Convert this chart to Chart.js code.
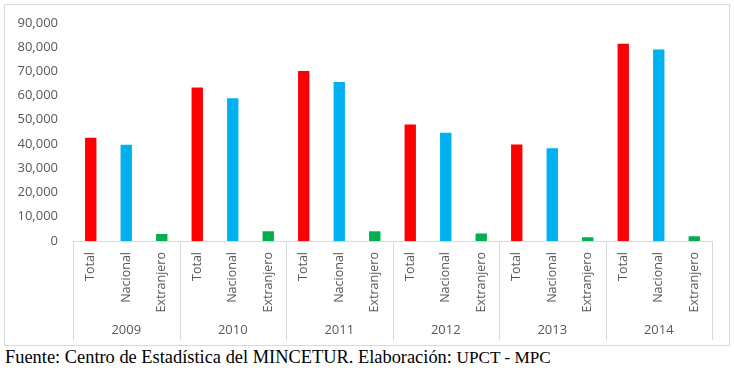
<!DOCTYPE html>
<html>
<head>
<meta charset="utf-8">
<script src="https://cdn.jsdelivr.net/npm/chart.js@4/dist/chart.umd.min.js"></script>
<style>
  html, body { margin: 0; padding: 0; background: #fff; }
  body { width: 734px; height: 370px; position: relative; overflow: hidden; }
  #frame { position: absolute; left: 4px; top: 4px; width: 726px; height: 342px; border: 1px solid #d9d9d9; box-sizing: border-box; }
  #wrap { position: absolute; left: 0; top: 0; width: 734px; height: 345px; }
  #foot { position: absolute; left: 5px; top: 347px; font-family: "Liberation Serif", "Times New Roman", serif; font-size: 18.4px; line-height: 20px; color: #000; white-space: nowrap; }
</style>
</head>
<body>
<div id="frame"></div>
<div id="wrap"><canvas id="c" width="734" height="345"></canvas></div>
<div id="foot">Fuente: Centro de Estadística del MINCETUR. Elaboración: <span style="font-size:17.2px">UPCT - MPC</span></div>
<script>
const years = ["2009", "2010", "2011", "2012", "2013", "2014"];
const subCategories = ["Total", "Nacional", "Extranjero"];
const totalValues = [42600, 63300, 70100, 48100, 39800, 81400];
const nacionalValues = [39700, 58900, 65600, 44700, 38300, 79000];
const extranjeroValues = [2900, 4000, 4000, 3100, 1500, 2000];
const seriesColors = ["#FF0000", "#00B0F0", "#00B050"];

const labels = [];
const values = [];
const colors = [];
years.forEach((y, i) => {
  const vals = [totalValues[i], nacionalValues[i], extranjeroValues[i]];
  subCategories.forEach((s, j) => {
    labels.push(s);
    values.push(vals[j]);
    colors.push(seriesColors[j]);
  });
});

const groupPlugin = {
  id: 'groups',
  afterDraw(chart) {
    const ctx = chart.ctx;
    const x = chart.scales.x;
    const area = chart.chartArea;
    const n = subCategories.length;
    const half = (x.getPixelForValue(1) - x.getPixelForValue(0)) / 2;
    ctx.save();
    ctx.strokeStyle = '#d9d9d9';
    ctx.lineWidth = 1;
    ctx.beginPath();
    for (let g = 0; g <= years.length; g++) {
      let px;
      if (g < years.length) px = x.getPixelForValue(g * n) - half;
      else px = x.getPixelForValue(g * n - 1) + half;
      px = Math.round(px) + 0.5;
      ctx.moveTo(px, area.bottom);
      ctx.lineTo(px, 340);
    }
    ctx.stroke();
    ctx.fillStyle = '#595959';
    ctx.font = '13px "Open Sans", sans-serif';
    ctx.textAlign = 'center';
    ctx.textBaseline = 'middle';
    years.forEach((y, g) => {
      const cx = (x.getPixelForValue(g * n) + x.getPixelForValue(g * n + n - 1)) / 2;
      ctx.fillText(y, cx, 330);
    });
    ctx.restore();
  }
};

new Chart(document.getElementById('c'), {
  type: 'bar',
  data: {
    labels: labels,
    datasets: [{
      data: values,
      backgroundColor: colors,
      barPercentage: 0.32,
      categoryPercentage: 1.0
    }]
  },
  options: {
    responsive: false,
    animation: false,
    layout: { padding: { top: 22, right: 22, left: 0, bottom: 0 } },
    plugins: { legend: { display: false }, tooltip: { enabled: false }, title: { display: false } },
    scales: {
      x: {
        offset: true,
        grid: { display: false, drawTicks: false },
        border: { display: true, color: '#d9d9d9', width: 1 },
        ticks: {
          minRotation: 90, maxRotation: 90, autoSkip: false,
          color: '#595959', padding: 11,
          font: { family: '"Open Sans", sans-serif', size: 12.5 }
        },
        afterFit(scale) { scale.height = 104; }
      },
      y: {
        min: 0, max: 90000,
        grid: { display: false, drawTicks: false },
        border: { display: false },
        ticks: {
          stepSize: 10000, color: '#595959', padding: 15,
          font: { family: '"Open Sans", sans-serif', size: 13 },
          callback: v => v.toLocaleString('en-US')
        },
        afterFit(scale) { scale.width = 73; }
      }
    }
  },
  plugins: [groupPlugin]
});
</script>
</body>
</html>
